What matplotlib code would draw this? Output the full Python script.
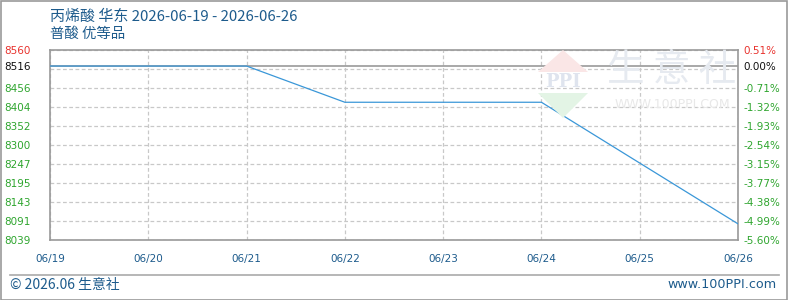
import numpy as np
import matplotlib.pyplot as plt
from matplotlib.patches import Polygon, Rectangle
from matplotlib.lines import Line2D

# ── Data ───────────────────────────────────────────────────────────────────────
dates = ['06/19', '06/20', '06/21', '06/22', '06/23', '06/24', '06/25', '06/26']
prices = [8516, 8516, 8516, 8416.7, 8416.7, 8416.7, 8250, 8083.3]
base_price = 8516

y_grid = [8560, 8508, 8456, 8404, 8352, 8300, 8247, 8195, 8143, 8091, 8039]
left_ticks = [8560, 8516, 8456, 8404, 8352, 8300, 8247, 8195, 8143, 8091, 8039]
left_labels = ['8560', '8516', '8456', '8404', '8352', '8300', '8247', '8195', '8143', '8091', '8039']
right_labels = ['0.51%', '0.00%', '-0.71%', '-1.32%', '-1.93%', '-2.54%', '-3.15%',
                '-3.77%', '-4.38%', '-4.99%', '-5.60%']
label_colors = ['#e8322d', '#111111'] + ['#2ea52e'] * 9

title1 = '丙烯酸 华东 2026-06-19 - 2026-06-26'
title2 = '普酸 优等品'
footer_left = '© 2026.06 生意社'
footer_right = 'www.100PPI.com'

# ── Style ──────────────────────────────────────────────────────────────────────
plt.rcParams['font.family'] = ['Noto Sans CJK SC', 'DejaVu Sans']
BLUE_TXT = '#1d5b8c'
W, H = 788, 300

fig = plt.figure(figsize=(W / 100, H / 100), dpi=100)

def fx(px):
    return px / W

def fy(py):
    return 1 - py / H

ax = fig.add_axes([fx(50), fy(240), fx(688), 190 / H])
ax.set_xlim(0, len(dates) - 1)
ax.set_ylim(min(y_grid), max(y_grid))

# grid
for v in y_grid:
    ax.axhline(v, color='#c8c8c8', lw=0.9, ls=(0, (3, 2)), zorder=1)
for i in range(len(dates)):
    ax.axvline(i, color='#c8c8c8', lw=0.9, ls=(0, (3, 2)), zorder=1)
ax.axhline(base_price, color='#999999', lw=1.2, zorder=2)

# watermark (behind everything)
wm = '#e6eaf0'
fig.patches.append(Polygon([[fx(538), fy(72)], [fx(588), fy(72)], [fx(563), fy(50)]],
                           closed=True, transform=fig.transFigure, fc='#fae6e6', ec='none', zorder=0))
fig.patches.append(Polygon([[fx(538), fy(93)], [fx(588), fy(93)], [fx(563), fy(118)]],
                           closed=True, transform=fig.transFigure, fc='#e3f4e5', ec='none', zorder=0))
fig.text(fx(563), fy(82), 'PPI', color='#dfe4ee', fontsize=13, fontweight='bold',
         family='DejaVu Serif', ha='center', va='center', zorder=0)
fig.text(fx(672), fy(71), '生 意 社', color=wm, fontsize=27, ha='center', va='center', zorder=0)
fig.text(fx(672), fy(104), 'WWW.100PPI.COM', color='#e8e8e8', fontsize=9,
         ha='center', va='center', family='DejaVu Sans', zorder=0)

ax.plot(range(len(dates)), prices, color='#3a97d8', lw=0.9, zorder=3)

for s in ax.spines.values():
    s.set_color('#999999')
    s.set_linewidth(1.2)
ax.patch.set_alpha(0)

ax.set_xticks(range(len(dates)))
ax.set_xticklabels(dates, color=BLUE_TXT, family='DejaVu Sans', fontsize=7.5)
ax.set_yticks(left_ticks)
ax.set_yticklabels(left_labels, family='DejaVu Sans', fontsize=7.5)
for t, c in zip(ax.get_yticklabels(), label_colors):
    t.set_color(c)
ax.tick_params(axis='y', length=0, pad=14)
ax.tick_params(axis='x', length=0, pad=10)

ax2 = ax.twinx()
ax2.set_ylim(ax.get_ylim())
ax2.set_yticks(left_ticks)
ax2.set_yticklabels(right_labels, family='DejaVu Sans', fontsize=7.5)
for t, c in zip(ax2.get_yticklabels(), label_colors):
    t.set_color(c)
ax2.tick_params(axis='y', length=0, pad=4)
for s in ax2.spines.values():
    s.set_visible(False)

# titles
fig.text(fx(50), fy(17), title1, color=BLUE_TXT, fontsize=10.8, va='center', ha='left')
fig.text(fx(50), fy(34), title2, color=BLUE_TXT, fontsize=10.4, va='center', ha='left')

# footer
fig.add_artist(Line2D([fx(10), fx(779)], [fy(275), fy(275)], color='#aaaaaa', lw=1.2,
                      transform=fig.transFigure))
fig.text(fx(10), fy(285), footer_left, color=BLUE_TXT, fontsize=10, va='center', ha='left')
fig.text(fx(777), fy(285), footer_right, color=BLUE_TXT, fontsize=9.2, va='center', ha='right',
         family='DejaVu Sans')

# outer border
fig.patches.append(Rectangle((0.5 / W, 0.5 / H), 1 - 1.5 / W, 1 - 1.5 / H, transform=fig.transFigure,
                             fill=False, ec='#999999', lw=1.2))

fig.savefig('out.png', dpi=100)
